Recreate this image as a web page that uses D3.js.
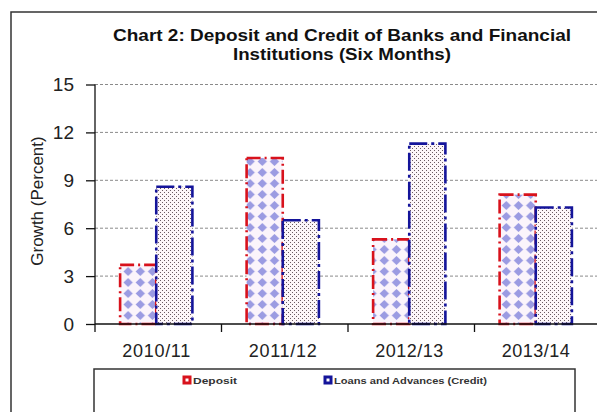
<!DOCTYPE html>
<html>
<head>
<meta charset="utf-8">
<script src="https://cdn.jsdelivr.net/npm/d3@7"></script>
<style>
  html, body { margin: 0; padding: 0; background: #fff; }
  svg { display: block; font-family: "Liberation Sans", Arial, sans-serif; }
  .grid line { stroke: #8a8a8a; stroke-dasharray: 3,2; stroke-width: 1; }
  .axis path, .axis line { stroke: #111; stroke-width: 1.3; }
  .axis text { fill: #222; }
</style>
</head>
<body>
<div id="chart"></div>
<script>
// Chart 2 - deposit vs credit growth, six months
const years = ["2010/11", "2011/12", "2012/13", "2013/14"];
const deposit = [3.7, 10.4, 5.3, 8.1];
const credit = [8.6, 6.5, 11.3, 7.3];
const yTicks = [0, 3, 6, 9, 12, 15];
const seriesNames = ["Deposit", "Loans and Advances (Credit)"];

const W = 597, H = 412;
const plotL = 95, plotR = 601, plotT = 84.5, plotB = 324;
const narrow = "'Liberation Sans Narrow', 'Liberation Sans', Arial, sans-serif";

const svg = d3.select("#chart").append("svg")
  .attr("width", W).attr("height", H);

const defs = svg.append("defs");
// diamond fill for deposits
const pd = defs.append("pattern").attr("id", "diamonds")
  .attr("patternUnits", "userSpaceOnUse").attr("width", 12.2).attr("height", 11)
  .attr("x", 0).attr("y", 2);
pd.append("rect").attr("width", 12.2).attr("height", 11).attr("fill", "#fbf4fb");
pd.append("path").attr("d", "M6.1,1 L10.8,5.5 L6.1,10 L1.4,5.5 Z").attr("fill", "#9b9be2");
// dotted fill for credit
const pc = defs.append("pattern").attr("id", "dots")
  .attr("patternUnits", "userSpaceOnUse").attr("width", 4).attr("height", 4);
pc.append("rect").attr("width", 4).attr("height", 4).attr("fill", "#fdf6f9");
pc.append("rect").attr("x", 0).attr("y", 0).attr("width", 1).attr("height", 1).attr("fill", "#6a5a62");
pc.append("rect").attr("x", 2).attr("y", 2).attr("width", 1).attr("height", 1).attr("fill", "#6a5a62");

// outer chart border (runs off the window at right/bottom)
svg.append("rect").attr("x", 11).attr("y", 12).attr("width", 620).attr("height", 430)
  .attr("fill", "#fff").attr("stroke", "#333").attr("stroke-width", 1.5);

svg.append("text").attr("x", 342).attr("y", 41).attr("text-anchor", "middle")
  .attr("font-size", 17).attr("font-weight", "bold").attr("fill", "#111")
  .attr("textLength", 458).attr("lengthAdjust", "spacingAndGlyphs")
  .text("Chart 2:  Deposit and Credit of Banks and Financial");
svg.append("text").attr("x", 342).attr("y", 60).attr("text-anchor", "middle")
  .attr("font-size", 17).attr("font-weight", "bold").attr("fill", "#111")
  .attr("textLength", 218).attr("lengthAdjust", "spacingAndGlyphs")
  .text("Institutions (Six Months)");

const x = d3.scaleBand().domain(years).range([plotL, plotR]).paddingInner(0).paddingOuter(0);
const y = d3.scaleLinear().domain([0, 15]).range([plotB, plotT]);
const inner = d3.scaleBand().domain([0, 1]).range([0, x.bandwidth()]).paddingInner(0).paddingOuter(0.75);

svg.append("g").attr("class", "grid").selectAll("line").data(yTicks.filter(d => d > 0)).join("line")
  .attr("x1", plotL).attr("x2", W).attr("y1", d => y(d)).attr("y2", d => y(d));

const series = [
  { name: seriesNames[0], values: deposit, fill: "url(#diamonds)", stroke: "#d8121c", dash: "14,4,2,4" },
  { name: seriesNames[1], values: credit, fill: "url(#dots)", stroke: "#14149a", dash: "18,4,3,4" }
];

series.forEach((s, si) => {
  svg.append("g").selectAll("rect").data(s.values).join("rect")
    .attr("x", (d, i) => x(years[i]) + inner(si) - 2)
    .attr("y", d => y(d))
    .attr("width", inner.bandwidth())
    .attr("height", d => plotB - y(d))
    .attr("fill", s.fill)
    .attr("stroke", s.stroke).attr("stroke-width", 2.6)
    .attr("stroke-dasharray", s.dash);
});

// y axis
const yAxis = svg.append("g").attr("class", "axis")
  .attr("transform", `translate(${plotL},0)`)
  .call(d3.axisLeft(y).tickValues(yTicks).tickSize(9).tickPadding(12).tickFormat(d3.format("d")));
yAxis.select(".domain").attr("d", `M0,${plotT}V${plotB}`);
yAxis.selectAll("text").attr("font-size", 19).attr("font-family", narrow);

// x axis with ticks at category boundaries
const xAxis = svg.append("g").attr("class", "axis")
  .attr("transform", `translate(0,${plotB})`);
xAxis.append("line").attr("x1", plotL).attr("x2", plotR);
xAxis.selectAll("line.tk").data(years.concat(["end"])).join("line").attr("class", "tk")
  .attr("x1", (d, i) => plotL + i * x.bandwidth()).attr("x2", (d, i) => plotL + i * x.bandwidth())
  .attr("y1", 0).attr("y2", 8);
xAxis.selectAll("text").data(years).join("text")
  .attr("x", d => x(d) + x.bandwidth() / 2 - 2).attr("y", 33)
  .attr("text-anchor", "middle").attr("font-size", 18).attr("font-family", narrow)
  .attr("textLength", 68).attr("lengthAdjust", "spacing")
  .text(d => d);

svg.append("text")
  .attr("transform", "translate(43,201) rotate(-90)")
  .attr("text-anchor", "middle").attr("font-size", 17).attr("font-family", narrow).attr("fill", "#222")
  .text("Growth (Percent)");

// legend
const lg = svg.append("g");
lg.append("rect").attr("x", 94).attr("y", 369).attr("width", 481).attr("height", 60)
  .attr("fill", "#fff").attr("stroke", "#333").attr("stroke-width", 1.5);
const legendX = [184, 325];
const legendW = [44, 153];
series.forEach((s, i) => {
  lg.append("rect").attr("x", legendX[i]).attr("y", 377).attr("width", 6).attr("height", 6)
    .attr("fill", "#fff").attr("stroke", s.stroke).attr("stroke-width", 3);
  lg.append("text").attr("x", legendX[i] + 9).attr("y", 384)
    .attr("font-size", 9.5).attr("font-weight", "bold").attr("fill", "#333")
    .attr("textLength", legendW[i]).attr("lengthAdjust", "spacingAndGlyphs")
    .text(s.name);
});
</script>
</body>
</html>
